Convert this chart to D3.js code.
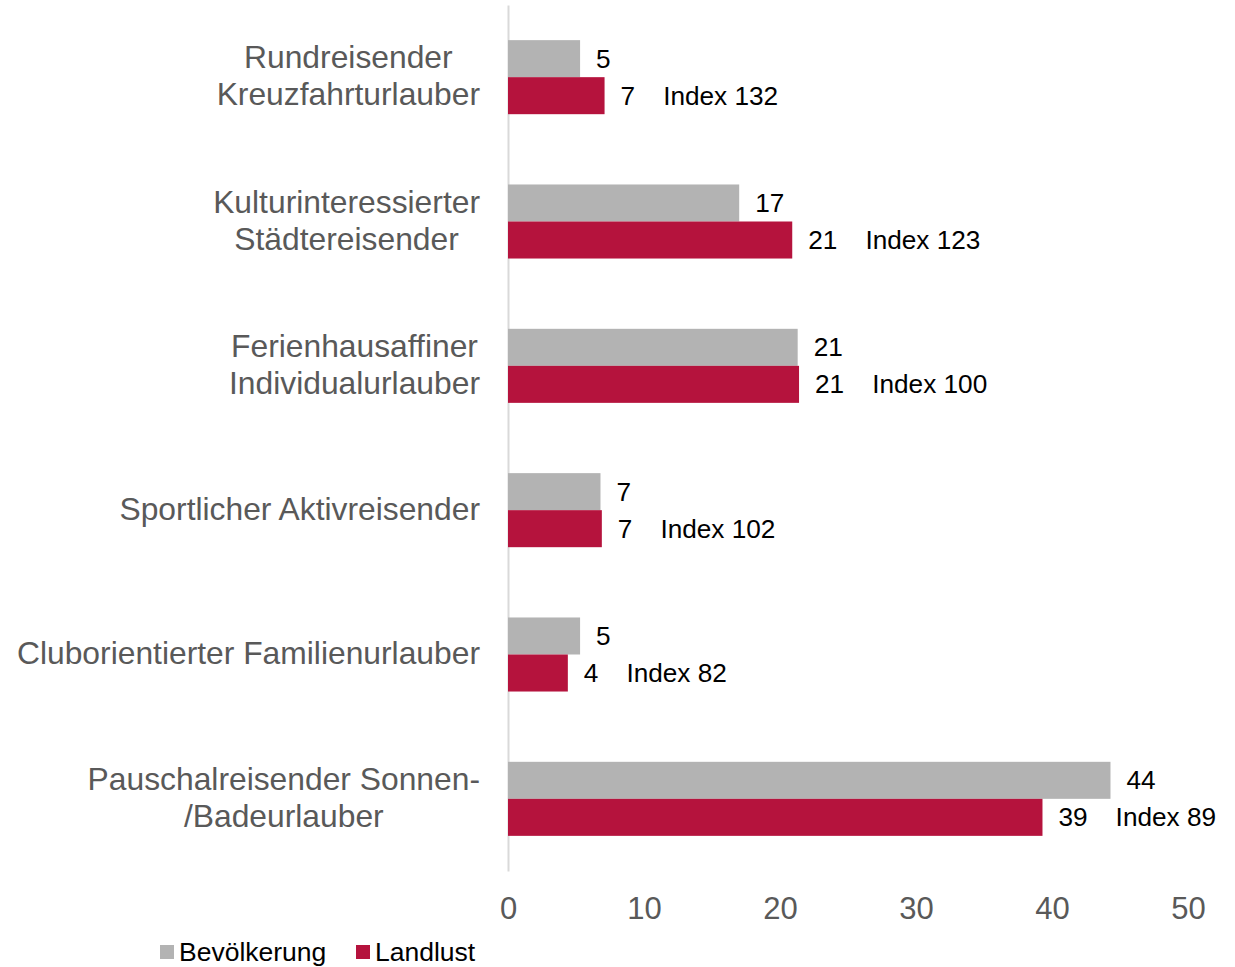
<!DOCTYPE html>
<html>
<head>
<meta charset="utf-8">
<script src="https://cdn.jsdelivr.net/npm/d3@7"></script>
<style>
  body { margin: 0; background: #fff; }
  text { font-family: "Liberation Sans", Arial, sans-serif; }
</style>
</head>
<body>
<div id="chart"></div>
<script>
// data
var categories = ["Rundreisender|Kreuzfahrturlauber",
                  "Kulturinteressierter|Städtereisender",
                  "Ferienhausaffiner|Individualurlauber",
                  "Sportlicher Aktivreisender",
                  "Cluborientierter Familienurlauber",
                  "Pauschalreisender Sonnen-|/Badeurlauber"];
var bevoelkerung = [5.3, 17.0, 21.3, 6.8, 5.3, 44.3];
var landlust = [7.1, 20.9, 21.4, 6.9, 4.4, 39.3];
var indexValues = [132, 123, 100, 102, 82, 89];
var seriesNames = ["Bevölkerung", "Landlust"];
var xTicks = [0, 10, 20, 30, 40, 50];

var W = 1235, H = 967;
var color = d3.scaleOrdinal().domain(seriesNames).range(["#b3b3b3", "#b5133d"]);

var svg = d3.select("#chart").append("svg")
    .attr("width", W)
    .attr("height", H);

// scales
var x = d3.scaleLinear().domain([0, 50]).range([508, 1188]);
var y = d3.scaleBand()
    .domain(categories)
    .range([5, 871])
    .paddingInner(0.487)
    .paddingOuter(0.2435);
var ySub = d3.scaleBand()
    .domain(seriesNames)
    .range([0, y.bandwidth()]);

var rows = categories.map(function (c, i) {
  return {cat: c, vals: [bevoelkerung[i], landlust[i]], idx: indexValues[i]};
});

// vertical axis line
var yAxis = svg.append("g")
    .attr("transform", "translate(" + x(0) + ",0)")
    .call(d3.axisLeft(y).tickSize(0).tickFormat(""));
yAxis.select(".domain").attr("stroke", "#d9d9d9").attr("stroke-width", 2);

// x axis tick labels only
var xAxis = svg.append("g")
    .attr("transform", "translate(0,894)")
    .call(d3.axisBottom(x).tickValues(xTicks).tickSize(0).tickFormat(d3.format("d")));
xAxis.select(".domain").remove();
xAxis.selectAll("text")
    .attr("font-size", "31px")
    .attr("fill", "#595959")
    .attr("font-family", "Liberation Sans, Arial, sans-serif");

var group = svg.selectAll(".grp")
  .data(rows)
  .enter().append("g")
    .attr("class", "grp")
    .attr("transform", function (d) { return "translate(0," + y(d.cat) + ")"; });

group.selectAll("rect")
  .data(function (d) { return d.vals.map(function (v, j) { return {key: seriesNames[j], v: v}; }); })
  .enter().append("rect")
    .attr("x", x(0))
    .attr("y", function (d) { return ySub(d.key); })
    .attr("width", function (d) { return x(d.v) - x(0); })
    .attr("height", ySub.bandwidth())
    .attr("fill", function (d) { return color(d.key); });

// value labels
group.each(function (d) {
  var g = d3.select(this);
  d.vals.forEach(function (v, j) {
    var t = g.append("text")
      .attr("x", x(v) + 16)
      .attr("y", ySub(seriesNames[j]) + ySub.bandwidth() / 2)
      .attr("dy", "0.35em")
      .attr("font-size", "26.2px")
      .attr("fill", "#000");
    t.append("tspan").text(Math.round(v));
    if (j === 1) {
      t.append("tspan").attr("dx", 28).text("Index " + d.idx);
    }
  });
});

// category labels: lines centred on each other, block right-aligned
group.each(function (d) {
  var lines = d.cat.split("|");
  var cy = y.bandwidth() / 2 - 1.5;
  var t = d3.select(this).append("text")
    .attr("font-size", "31.8px")
    .attr("fill", "#595959")
    .attr("text-anchor", "middle");
  var spans = lines.map(function (l, k) {
    return t.append("tspan")
      .attr("y", cy + (k - (lines.length - 1) / 2) * 37)
      .attr("dy", "0.35em")
      .text(l);
  });
  var maxW = d3.max(spans, function (s) { return s.node().getComputedTextLength(); });
  spans.forEach(function (s) { s.attr("x", 480 - maxW / 2); });
});

// legend
var legendX = [160, 356];
var legend = svg.selectAll(".legend")
  .data(seriesNames)
  .enter().append("g")
    .attr("class", "legend")
    .attr("transform", function (d, i) { return "translate(" + legendX[i] + ",945)"; });
legend.append("rect")
    .attr("width", 14)
    .attr("height", 14)
    .attr("fill", function (d) { return color(d); });
legend.append("text")
    .attr("x", 19)
    .attr("y", 7)
    .attr("dy", "0.35em")
    .attr("font-size", "26.5px")
    .attr("fill", "#000")
    .text(function (d) { return d; });
</script>
</body>
</html>
